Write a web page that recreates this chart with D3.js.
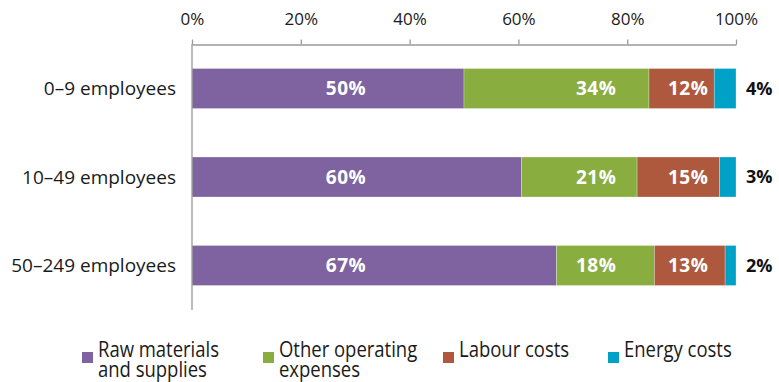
<!DOCTYPE html>
<html>
<head>
<meta charset="utf-8">
<script src="https://cdn.jsdelivr.net/npm/d3@7"></script>
<style>
  html, body { margin: 0; padding: 0; background: #fff; }
  svg { display: block; font-family: "Open Sans", "Noto Sans", sans-serif; }
</style>
</head>
<body>
<svg id="chart" width="779" height="382"></svg>
<script>
// Enterprise size classes
const categories = ["0–9 employees", "10–49 employees", "50–249 employees"];

// Cost structure shares (%) per size class
const seriesNames = ["Raw materials and supplies", "Other operating expenses", "Labour costs", "Energy costs"];
const rawMaterials = [50, 60, 67];
const otherOperating = [34, 21, 18];
const labourCosts = [12, 15, 13];
const energyCosts = [4, 3, 2];

const tickValues = [0, 0.2, 0.4, 0.6, 0.8, 1];

// Legend text split over lines
const legendLines = [["Raw materials", "and supplies"], ["Other operating", "expenses"], ["Labour costs"], ["Energy costs"]];

const colors = ["#7f63a1", "#8aad3f", "#ae593d", "#00a1c6"];

// Label columns (share of axis) where in-bar values are written
const labelColumns = [0.283, 0.743, 0.912];

const keys = ["raw", "other", "labour", "energy"];
const rows = categories.map((c, i) => ({
  category: c,
  raw: rawMaterials[i],
  other: otherOperating[i],
  labour: labourCosts[i],
  energy: energyCosts[i]
}));

const stack = d3.stack().keys(keys).offset(d3.stackOffsetExpand);
const layers = stack(rows);

const svg = d3.select("#chart");

const x = d3.scaleLinear().domain([0, 1]).range([192, 736]);
const y = d3.scaleBand().domain(categories).range([44, 310])
  .paddingInner(0.548).paddingOuter(0.277);

const color = d3.scaleOrdinal().domain(keys).range(colors);

// Bars
svg.append("g").selectAll("g")
  .data(layers)
  .join("g")
  .attr("fill", d => color(d.key))
  .selectAll("rect")
  .data(d => d)
  .join("rect")
  .attr("x", d => x(d[0]))
  .attr("y", d => y(d.data.category))
  .attr("width", d => x(d[1]) - x(d[0]))
  .attr("height", y.bandwidth())
  .attr("stroke", "#fff")
  .attr("stroke-opacity", 0.45)
  .attr("stroke-width", 0.6);

// Top axis
const axis = d3.axisTop(x)
  .tickValues(tickValues)
  .tickFormat(d3.format(".0%"))
  .tickSize(5)
  .tickSizeOuter(0)
  .tickPadding(15);

const gAxis = svg.append("g")
  .attr("transform", "translate(0,44.5)")
  .call(axis);
gAxis.select(".domain").attr("stroke", "#9a9a9a").attr("stroke-width", 1.3);
gAxis.selectAll(".tick line").attr("stroke", "#9a9a9a").attr("stroke-width", 1.3);
gAxis.selectAll(".tick text")
  .attr("font-size", 17)
  .attr("font-family", "\"Open Sans\", sans-serif")
  .attr("fill", "#1a1a1a");

// Vertical baseline
svg.append("line")
  .attr("x1", x(0)).attr("x2", x(0))
  .attr("y1", 44).attr("y2", 310)
  .attr("stroke", "#9a9a9a")
  .attr("stroke-width", 1.3);

// Category labels
svg.append("g").selectAll("text")
  .data(categories)
  .join("text")
  .attr("x", 176)
  .attr("y", d => y(d) + y.bandwidth() / 2)
  .attr("dy", "0.36em")
  .attr("text-anchor", "end")
  .attr("font-size", 19)
  .attr("fill", "#1a1a1a")
  .text(d => d);

// In-bar value labels
const inner = [rawMaterials, otherOperating, labourCosts];
inner.forEach((vals, s) => {
  svg.append("g").selectAll("text")
    .data(vals.map((v, i) => ({ v, c: categories[i] })))
    .join("text")
    .attr("x", x(labelColumns[s]))
    .attr("y", d => y(d.c) + y.bandwidth() / 2)
    .attr("dy", "0.36em")
    .attr("text-anchor", "middle")
    .attr("font-size", 19)
    .attr("letter-spacing", 0.5)
    .attr("font-weight", "bold")
    .attr("fill", "#fff")
    .text(d => d.v + "%");
});

// Energy shares written right of the bars
svg.append("g").selectAll("text")
  .data(energyCosts.map((v, i) => ({ v, c: categories[i] })))
  .join("text")
  .attr("x", x(1) + 10)
  .attr("y", d => y(d.c) + y.bandwidth() / 2)
  .attr("dy", "0.36em")
  .attr("text-anchor", "start")
  .attr("font-size", 18)
  .attr("font-weight", "bold")
  .attr("fill", "#111")
  .text(d => d.v + "%");

// Legend
const legendX = [82, 263, 443, 608];
const legend = svg.append("g").selectAll("g")
  .data(seriesNames)
  .join("g")
  .attr("transform", (d, i) => `translate(${legendX[i]},352)`);
legend.append("rect")
  .attr("width", 11).attr("height", 11)
  .attr("fill", (d, i) => colors[i]);
legend.append("text")
  .attr("x", 16)
  .attr("y", 5)
  .attr("font-size", 21)
  .attr("fill", "#1a1a1a")
  .attr("transform", "translate(16,0) scale(0.88,1)")
  .selectAll("tspan")
  .data((d, i) => legendLines[i])
  .join("tspan")
  .attr("x", 0)
  .attr("dy", (d, j) => j === 0 ? 0 : 20)
  .text(d => d);
</script>
</body>
</html>
